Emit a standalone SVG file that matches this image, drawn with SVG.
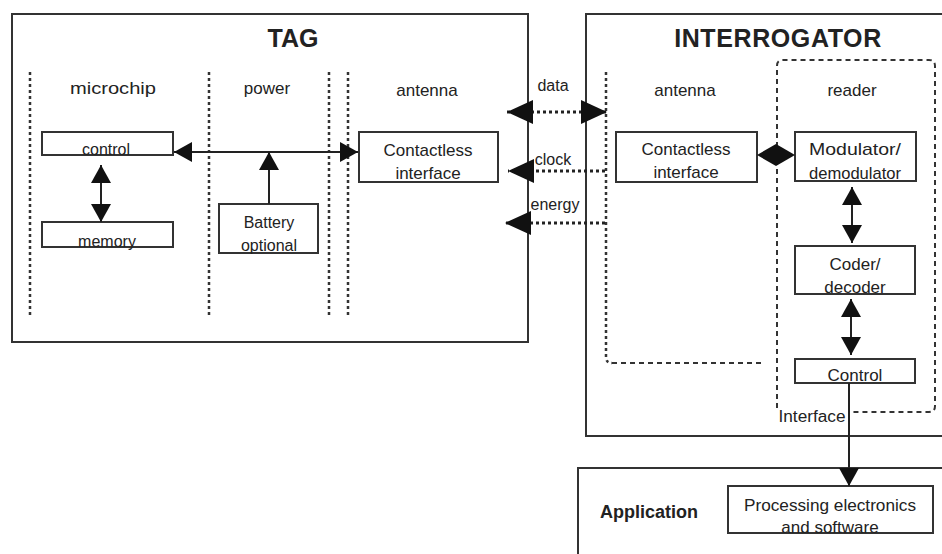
<svg xmlns="http://www.w3.org/2000/svg" width="942" height="554" viewBox="0 0 942 554">
<style>
text{font-family:"Liberation Sans",Arial,sans-serif;fill:#222;text-anchor:middle}
.t{font-size:17px}
.s{font-size:16px}
.b{font-weight:bold;font-size:25px}
.frame{fill:none;stroke:#333;stroke-width:2}
.box{fill:#fff;stroke:#333;stroke-width:2}
.dot{fill:none;stroke:#333;stroke-width:2.5;stroke-dasharray:3 3}
.dash{fill:none;stroke:#333;stroke-width:2;stroke-dasharray:5 4}
.ln{fill:none;stroke:#222;stroke-width:2}
.dl{fill:none;stroke:#222;stroke-width:3;stroke-dasharray:3 3}
.hd{fill:#111;stroke:none}
</style>
<defs>
<marker id="ah" viewBox="0 0 18 20" markerWidth="18" markerHeight="20" refX="18" refY="10" orient="auto-start-reverse" markerUnits="userSpaceOnUse"><path class="hd" d="M0,0 L18,10 L0,20 Z"/></marker>
<marker id="bh" viewBox="0 0 26 24" markerWidth="26" markerHeight="24" refX="26" refY="12" orient="auto-start-reverse" markerUnits="userSpaceOnUse"><path class="hd" d="M0,0 L26,12 L0,24 Z"/></marker>
</defs>

<g id="tag">
<rect class="frame" x="12" y="14" width="516" height="328"/>
<text class="b" x="293" y="47">TAG</text>
<path class="dot" d="M30,72 V316 M209,72 V316 M329,72 V316 M348,72 V316"/>
<text class="t" x="113" y="94" textLength="86" lengthAdjust="spacingAndGlyphs">microchip</text>
<text class="t" x="267" y="94">power</text>
<text class="t" x="427" y="96">antenna</text>
</g>

<g id="tag-control">
<rect class="box" x="42" y="132" width="131" height="23"/>
<text class="s" x="106" y="155">control</text>
</g>
<g id="tag-memory">
<rect class="box" x="42" y="222" width="131" height="25"/>
<text class="s" x="107" y="247">memory</text>
</g>
<g id="tag-battery">
<rect class="box" x="219" y="204" width="99" height="49"/>
<text class="s" x="269" y="228">Battery</text>
<text class="s" x="269" y="251">optional</text>
</g>
<g id="tag-contactless">
<rect class="box" x="359" y="132" width="139" height="50"/>
<text class="t" x="428" y="156">Contactless</text>
<text class="t" x="428" y="179">interface</text>
</g>

<g id="interrogator">
<path class="frame" d="M944,14 H586 V436 H944"/>
<text class="b" x="778" y="47" letter-spacing="0.6">INTERROGATOR</text>
<path class="dot" d="M606,72 V357 Q606,363 612,363"/>
<path class="dash" d="M612,363 H765"/>
<path class="dash" d="M777,408 V66 Q777,60 783,60 H929 Q935,60 935,66 V406 Q935,412 929,412 H850"/>
<text class="t" x="685" y="96">antenna</text>
<text class="t" x="852" y="96">reader</text>
<text class="s" x="812" y="422" textLength="67" lengthAdjust="spacingAndGlyphs">Interface</text>
</g>

<g id="int-contactless">
<rect class="box" x="616" y="132" width="141" height="50"/>
<text class="t" x="686" y="155">Contactless</text>
<text class="t" x="686" y="178">interface</text>
</g>
<g id="int-modulator">
<rect class="box" x="795" y="132" width="121" height="49"/>
<text class="t" x="855" y="155" textLength="92" lengthAdjust="spacingAndGlyphs">Modulator/</text>
<text class="t" x="855" y="179" textLength="92" lengthAdjust="spacingAndGlyphs">demodulator</text>
</g>
<g id="int-coder">
<rect class="box" x="795" y="246" width="120" height="48"/>
<text class="t" x="855" y="270">Coder/</text>
<text class="t" x="855" y="293">decoder</text>
</g>
<g id="int-control">
<rect class="box" x="795" y="359" width="120" height="24"/>
<text class="t" x="855" y="381">Control</text>
</g>

<g id="application">
<path class="frame" d="M944,468 H578 V556"/>
<text x="649" y="518" style="font-weight:bold;font-size:18px">Application</text>
</g>
<g id="app-processing">
<rect class="box" x="728" y="486" width="205" height="47"/>
<text class="t" x="830" y="511" textLength="172" lengthAdjust="spacingAndGlyphs">Processing electronics</text>
<text class="t" x="830" y="533">and software</text>
</g>

<g id="connectors">
<path class="ln" d="M174,152 H358" marker-start="url(#ah)" marker-end="url(#ah)"/>
<path class="ln" d="M269,204 V152" marker-end="url(#ah)"/>
<path class="ln" d="M101,165 V222" marker-start="url(#ah)" marker-end="url(#ah)"/>
<path class="dl" d="M507,112 H607" marker-start="url(#bh)" marker-end="url(#bh)"/>
<path class="dl" d="M605,171 H508" marker-end="url(#bh)"/>
<path class="dl" d="M605,223 H505" marker-end="url(#bh)"/>
<polygon class="hd" points="757,155 776,144 795,155 776,166"/>
<path class="ln" d="M852,187 V243" marker-start="url(#ah)" marker-end="url(#ah)"/>
<path class="ln" d="M851,299 V355" marker-start="url(#ah)" marker-end="url(#ah)"/>
<path class="ln" d="M849,383 V486" marker-end="url(#ah)"/>
<text class="s" x="553" y="91">data</text>
<text class="s" x="553" y="165">clock</text>
<text class="s" x="555" y="210">energy</text>
</g>
</svg>
